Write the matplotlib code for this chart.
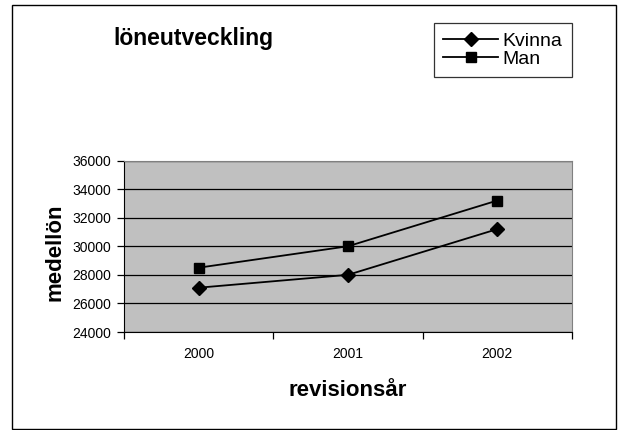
import matplotlib
matplotlib.use("Agg")
import matplotlib.pyplot as plt
from matplotlib.patches import Rectangle

plt.rcParams["font.family"] = ["Liberation Sans", "DejaVu Sans"]

years = ["2000", "2001", "2002"]
kvinna = [27100, 28000, 31200]
man = [28500, 30000, 33200]
y_ticks = [24000, 26000, 28000, 30000, 32000, 34000, 36000]

W, H = 619, 430
fig = plt.figure(figsize=(W / 100, H / 100), dpi=100)
fig.patch.set_facecolor("white")

# outer chart frame
fig.add_artist(Rectangle((12 / W, 1 - 429 / H), (616 - 12) / W, (429 - 5) / H,
                         transform=fig.transFigure, fill=False,
                         edgecolor="black", linewidth=1.0))

ax_left, ax_right, ax_top, ax_bottom = 124, 572, 160.5, 332
ax = fig.add_axes([ax_left / W, 1 - ax_bottom / H,
                   (ax_right - ax_left) / W, (ax_bottom - ax_top) / H])
ax.set_facecolor("#c0c0c0")

x = list(range(len(years)))
ax.plot(x, kvinna, color="black", linewidth=1.3, marker="D", markersize=7,
        label="Kvinna", zorder=3)
ax.plot(x, man, color="black", linewidth=1.3, marker="s", markersize=7.5,
        label="Man", zorder=3)

ax.set_xlim(-0.5, 2.5)
ax.set_ylim(24000, 36000)
ax.set_yticks(y_ticks)
ax.set_yticklabels([str(v) for v in y_ticks], fontsize=10)
ax.yaxis.grid(True, color="black", linewidth=0.9)
ax.set_axisbelow(True)

ax.set_xticks([-0.5, 0.5, 1.5, 2.5])
ax.set_xticklabels([])
ax.set_xticks(x, minor=True)
ax.set_xticklabels(years, minor=True, fontsize=10)
ax.tick_params(axis="x", which="minor", length=0, pad=11)
ax.tick_params(axis="x", which="major", length=5, direction="out", width=0.9)
ax.tick_params(axis="y", length=5, direction="out", width=0.9, pad=4.5)

for side in ["top", "right"]:
    ax.spines[side].set_color("#808080")
for side in ["left", "bottom"]:
    ax.spines[side].set_color("black")

ax_w, ax_h = ax_right - ax_left, ax_bottom - ax_top
ax.set_xlabel("revisionsår", fontsize=16, fontweight="bold")
ax.xaxis.set_label_coords(0.5, -(390 - ax_bottom) / ax_h)
ax.xaxis.label.set_va("center")
ax.set_ylabel("medellön", fontsize=16, fontweight="bold")
ax.yaxis.set_label_coords(-(ax_left - 54.5) / ax_w, (ax_bottom - 252) / ax_h)
ax.yaxis.label.set_va("center")

fig.text(193 / W, 1 - 45 / H, "löneutveckling", fontsize=16.5, fontweight="bold",
         ha="center", va="baseline")

leg = fig.legend(loc="upper left", bbox_to_anchor=(434 / W, 1 - 23 / H),
                 fontsize=14, frameon=True, fancybox=False, edgecolor="black",
                 handlelength=2.8, handletextpad=0.25, borderpad=0.48,
                 labelspacing=0.0, borderaxespad=0)
leg.get_frame().set_linewidth(0.9)

fig.savefig("out.png", dpi=100)
